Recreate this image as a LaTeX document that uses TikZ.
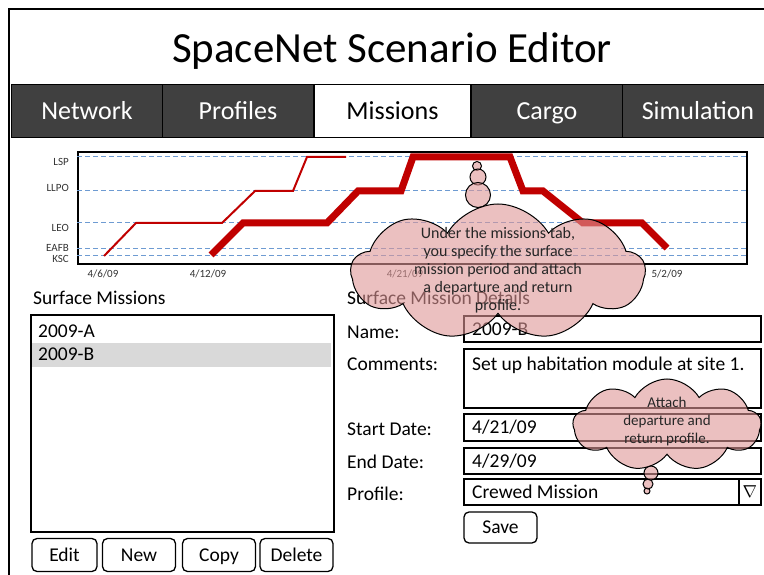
\documentclass[tikz,border=0pt]{standalone}
\usepackage{fontspec}
\setmainfont{Carlito}
\usetikzlibrary{positioning}
\usetikzlibrary{shapes.symbols}
\definecolor{tabgray}{RGB}{64,64,64}
\definecolor{trajred}{RGB}{192,0,0}
\definecolor{gridblue}{RGB}{110,155,210}
\definecolor{thoughtpink}{RGB}{222,150,150}
\definecolor{selgray}{RGB}{217,217,217}
\tikzstyle{tab}=[draw=black,line width=1.5pt,fill=tabgray,text=white,minimum width=151pt,minimum height=53pt,inner sep=0pt,text height=17pt,text depth=0pt,font=\fontsize{26}{30}\selectfont]
\tikzstyle{activetab}=[tab,fill=white,text=black,minimum width=157pt]
\tikzstyle{field}=[draw,line width=1.6pt,anchor=north west,inner sep=0pt]
\tikzstyle{fieldtext}=[anchor=west,inner sep=0pt,text height=12.5pt,text depth=0pt,font=\fontsize{19.5}{22}\selectfont]
\tikzstyle{formlabel}=[anchor=west,inner sep=0pt,text height=12.5pt,text depth=0pt,font=\fontsize{19.5}{22}\selectfont]
\tikzstyle{button}=[draw,line width=1.3pt,rounded corners=5pt,minimum width=73pt,minimum height=33pt,inner sep=0pt,text height=12.5pt,text depth=0pt,font=\fontsize{19.5}{22}\selectfont]
\tikzstyle{orbit}=[anchor=east,inner sep=0pt,text=black!80,font=\fontsize{11}{12}\selectfont]
\tikzstyle{datelabel}=[inner sep=0pt,text=black!80,font=\fontsize{11}{12}\selectfont]
\tikzstyle{orbitline}=[draw=gridblue,dash pattern=on 5pt off 3pt,line width=1pt]
\tikzstyle{thin path}=[draw=trajred,line width=2pt]
\tikzstyle{thick path}=[draw=trajred,line width=7pt]
\tikzstyle{thought}=[cloud,draw=black,line width=1pt,fill=thoughtpink,fill opacity=0.6,draw opacity=1,cloud puffs=9,cloud puff arc=120,cloud ignores aspect,inner sep=0pt]
\tikzstyle{bubble}=[circle,draw=black,line width=1pt,fill=thoughtpink,fill opacity=0.6,draw opacity=1,inner sep=0pt]
\tikzstyle{notetext}=[align=center,inner sep=0pt,text=black!85]

\begin{document}
\begin{tikzpicture}[x=1pt,y=-1pt]
    \useasboundingbox (0,0) rectangle (764,575);
    \clip (0,0) rectangle (764,575);

    % window
    \coordinate (frame) at (9,9);
    \draw[line width=2.5pt] (frame |- 0,600) -- (frame) -- (frame -| 800,0);
    \node[font=\fontsize{43}{46}\selectfont] (title) at (392,51) {SpaceNet Scenario Editor};

    % tabs
    \foreach \x/\name/\text in {87/network/Network, 238/profiles/Profiles, 547/cargo/Cargo, 698/simulation/Simulation}
        \node[tab] (\name) at (\x,111) {\text};
    \node[activetab] (missions) at (392.5,111) {Missions};

    % timeline chart
    \node[field,line width=1.8pt,minimum width=669pt,minimum height=112pt] (chart) at (77,151) {};
    \foreach \y/\ly/\name in {157/162/LSP, 191/188/LLPO, 223/228/LEO, 249/248/EAFB, 256/259/KSC}{
        \path[orbitline] (chart.west |- 0,\y) -- (chart.east |- 0,\y);
        \node[orbit] (\name) at (69,\ly) {\name};
    }
    \foreach \x/\name/\text in {103/d1/4\slash 6\slash 09, 208/d2/4\slash 12\slash 09, 405/d3/4\slash 21\slash 09, 667/d4/5\slash 2\slash 09}
        \node[datelabel] (\name) at (\x,274) {\text};

    \path[thin path] (104,256) -- (136,223) -- (222,223) -- (255,191) -- (293,191) -- (307,157) -- (346,157);
    \path[thick path] (211,255) -- (243,223) -- (327,223) -- (358,191) -- (401,191) -- (413,157) -- (510,157)
        -- (523,191) -- (543,191) -- (583,223) -- (642,223) -- (667,248);

    % surface missions list
    \node[formlabel] (listtitle) at (33,298) {Surface Missions};
    \node[field,minimum width=303pt,minimum height=217pt] (missionlist) at (30,314) {};
    \node[anchor=north west,fill=selgray,minimum width=299pt,minimum height=24pt,inner sep=0pt] (selrow) at (32,343) {};
    \node[fieldtext] (itema) at (38,331) {2009-A};
    \node[fieldtext] (itemb) at (38,354) {2009-B};

    \foreach \x/\w/\name/\text in {64.5/65/edit/Edit, 139/73/new/New, 219/73/copy/Copy, 296.5/73/delete/Delete}
        \node[button,minimum width=\w pt] (\name) at (\x,555) {\text};

    % mission details form
    \node[formlabel] (detailstitle) at (347,298) {Surface Mission Details};
    \foreach \y/\name/\text in {332/namelabel/Name:, 364/commentslabel/Comments:, 429/startlabel/Start Date:, 462/endlabel/End Date:, 494/profilelabel/Profile:}
        \node[formlabel] (\name) at (347,\y) {\text};

    \node[field,minimum width=297pt,minimum height=26pt] (namebox) at (463,315) {};
    \node[field,minimum width=297pt,minimum height=59pt] (commentsbox) at (463,348) {};
    \node[field,minimum width=297pt,minimum height=27pt] (startbox) at (463,413) {};
    \node[field,minimum width=297pt,minimum height=26pt] (endbox) at (463,447) {};
    \node[field,minimum width=297pt,minimum height=26pt] (profilebox) at (463,478) {};
    \node[field,minimum width=22pt,minimum height=26pt,font=\fontsize{19}{20}\selectfont] (dropdown) at (738,478) {$\nabla$};

    \node[fieldtext] (nametext) at ([xshift=9pt]namebox.west) {2009-B};
    \node[fieldtext] (commentstext) at ([xshift=9pt,yshift=-16pt]commentsbox.north west) {Set up habitation module at site 1.};
    \node[fieldtext] (starttext) at ([xshift=9pt]startbox.west) {4/21/09};
    \node[fieldtext] (endtext) at ([xshift=9pt]endbox.west) {4/29/09};
    \node[fieldtext] (profiletext) at ([xshift=9pt]profilebox.west) {Crewed Mission};
    \node[button,minimum height=31pt] (save) at (500.5,527.5) {Save};

    % thought clouds
    \foreach \pos/\r/\name in {{(477,166)/4.5/ta}, {(478,177)/8/tb}, {(478,195)/12.5/tc}, {(647,491)/3/pa}, {(648,484)/5/pb}, {(651,473)/7/pc}}
        \node[bubble,minimum size=2*\r pt] (\name) at \pos {};
    \node[thought,minimum width=294pt,minimum height=136pt] (tabnote) at (498,272) {};
    \node[notetext,font=\fontsize{16}{18}\selectfont] (tabtext) at ([yshift=2pt]tabnote.center)
        {Under the missions tab,\\you specify the surface\\mission period and attach\\a departure and return\\profile.};
    \node[thought,minimum width=188pt,minimum height=92pt] (profilenote) at (667,425) {};
    \node[notetext,font=\fontsize{15}{18}\selectfont] (profiletip) at ([yshift=4pt]profilenote.center)
        {Attach\\departure and\\return profile.};
\end{tikzpicture}
\end{document}
